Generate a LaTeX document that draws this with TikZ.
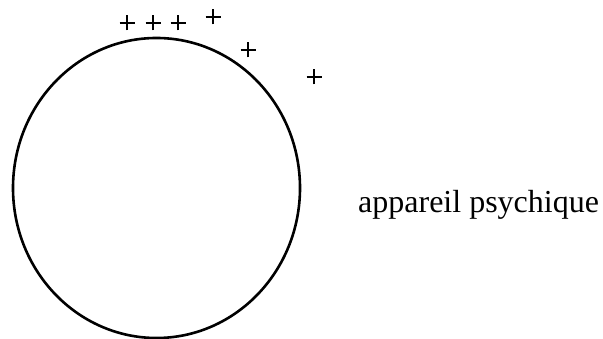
\documentclass[tikz,border=0pt]{standalone}
\usepackage{fontspec}
\setmainfont{Liberation Serif}
\begin{document}
\begin{tikzpicture}[x=1pt,y=1pt,
  plusmark/.style={line width=1.6pt},
  label/.style={inner sep=0pt,anchor=base west,font=\fontsize{32}{32}\selectfont}]
\useasboundingbox (0,0) rectangle (603,339);
\draw[line width=2.6pt] (156.5,151) ellipse [x radius=143.5, y radius=150];
\coordinate (p1) at (127,316);
\coordinate (p2) at (153,316);
\coordinate (p3) at (178,316);
\coordinate (p4) at (213,322);
\coordinate (p5) at (248,289);
\coordinate (p6) at (314,262);
\foreach \p in {p1,p2,p3,p4,p5,p6}{
  \draw[plusmark] ([xshift=-7.5pt]\p) -- ([xshift=7.5pt]\p);
  \draw[plusmark] ([yshift=-7.5pt]\p) -- ([yshift=7.5pt]\p);
}
\node[label] (t) at (358,126) {appareil psychique};
\end{tikzpicture}
\end{document}
